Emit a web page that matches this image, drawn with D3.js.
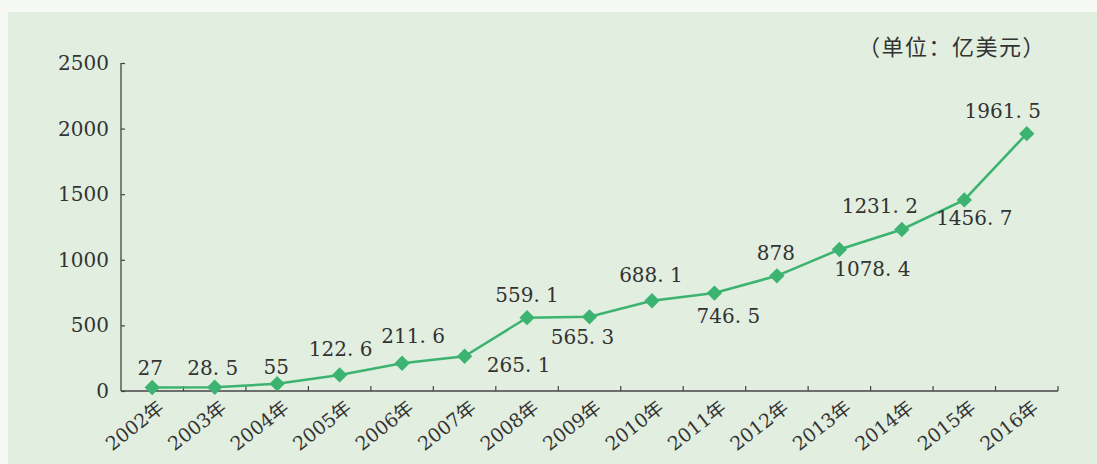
<!DOCTYPE html>
<html>
<head>
<meta charset="utf-8">
<script src="https://cdn.jsdelivr.net/npm/d3@7"></script>
<style>
  html, body { margin: 0; padding: 0; background: #f6f9f3; }
  svg { display: block; }
</style>
</head>
<body>
<div id="chart"></div>
<script>
const years = ["2002年", "2003年", "2004年", "2005年", "2006年", "2007年", "2008年", "2009年",
  "2010年", "2011年", "2012年", "2013年", "2014年", "2015年", "2016年"]
const values = [27, 28.5, 55, 122.6, 211.6, 265.1, 559.1, 565.3, 688.1, 746.5, 878, 1078.4, 1231.2, 1456.7, 1961.5]
const yTicks = [0, 500, 1000, 1500, 2000, 2500]
const unitLabel = "（单位：亿美元）"

// where each value label sits relative to its point (dx, dy of baseline)
const labelOffsets = [[-2, -12], [-2, -12], [-1, -10], [1, -19], [11, -20], [54, 16], [0, -16], [-7, 27],
  [-1, -19], [14, 30], [-1, -16], [33, 26], [-22, -16], [10, 25], [-24, -16]]

const W = 1097, H = 464
const MARGIN = { TOP: 63, BOTTOM: 73, LEFT: 121, RIGHT: 39 }
const GREEN = "#3cb371"
const NUM_FONT = "'DejaVu Serif', serif"

const svg = d3.select("#chart").append("svg")
  .attr("width", W)
  .attr("height", H)

// panel background
svg.append("rect")
  .attr("x", 8).attr("y", 12)
  .attr("width", W - 8).attr("height", H - 12)
  .attr("fill", "#e2eedf")

const g = svg.append("g")
  .attr("transform", `translate(${MARGIN.LEFT}, ${MARGIN.TOP})`)

const width = W - MARGIN.LEFT - MARGIN.RIGHT
const height = H - MARGIN.TOP - MARGIN.BOTTOM

const x = d3.scaleBand()
  .domain(years)
  .range([0, width])

const y = d3.scaleLinear()
  .domain([0, 2500])
  .range([height, 0])

const cx = d => x(d) + x.bandwidth() / 2

// y axis, ticks point inward
const yAxis = g.append("g")
  .call(d3.axisRight(y).tickValues(yTicks).tickSize(4).tickFormat(d3.format("d")))
yAxis.select(".domain").attr("stroke", "#444").attr("stroke-width", 1.3).attr("d", `M0,0V${height}`)
yAxis.selectAll(".tick line").attr("stroke", "#444").attr("stroke-width", 1.2)
yAxis.selectAll(".tick text")
  .attr("x", -12)
  .attr("text-anchor", "end")
  .attr("font-family", NUM_FONT)
  .attr("font-size", 20)
  .attr("fill", "#333")

// x axis, ticks on band edges pointing up
const xAxisGroup = g.append("g")
  .attr("transform", `translate(0, ${height})`)
xAxisGroup.append("line")
  .attr("x1", 0).attr("x2", width)
  .attr("stroke", "#444").attr("stroke-width", 1.3)
xAxisGroup.selectAll(".xtick")
  .data(years)
  .enter().append("line")
    .attr("class", "xtick")
    .attr("x1", d => x(d) + x.bandwidth())
    .attr("x2", d => x(d) + x.bandwidth())
    .attr("y1", 0).attr("y2", -5)
    .attr("stroke", "#444").attr("stroke-width", 1.2)

xAxisGroup.selectAll(".xlabel")
  .data(years)
  .enter().append("text")
    .attr("class", "xlabel")
    .attr("transform", d => `translate(${cx(d) + 13}, 19) rotate(-38)`)
    .attr("text-anchor", "end")
    .attr("font-family", "'DejaVu Serif', 'Noto Sans CJK SC', serif")
    .attr("font-size", 19)
    .attr("fill", "#333")
    .text(d => d)

// line
const line = d3.line()
  .x((d, i) => cx(years[i]))
  .y(d => y(d))

g.append("path")
  .datum(values)
  .attr("d", line)
  .attr("fill", "none")
  .attr("stroke", GREEN)
  .attr("stroke-width", 2.5)

// diamond markers
g.selectAll(".pt")
  .data(values)
  .enter().append("path")
    .attr("class", "pt")
    .attr("d", d3.symbol(d3.symbolDiamond2, 150))
    .attr("transform", (d, i) => `translate(${cx(years[i])}, ${y(d)})`)
    .attr("fill", GREEN)

// value labels
g.selectAll(".vlabel")
  .data(values)
  .enter().append("text")
    .attr("class", "vlabel")
    .attr("x", (d, i) => cx(years[i]) + labelOffsets[i][0])
    .attr("y", (d, i) => y(d) + labelOffsets[i][1])
    .attr("text-anchor", "middle")
    .attr("font-family", NUM_FONT)
    .attr("font-size", 20)
    .attr("fill", "#333")
    .text(d => String(d).replace(".", ". "))

// unit note
svg.append("text")
  .attr("x", 1046)
  .attr("y", 55)
  .attr("text-anchor", "end")
  .attr("font-family", "'Noto Sans CJK SC', sans-serif")
  .attr("font-size", 22)
  .attr("letter-spacing", 1.5)
  .attr("fill", "#333")
  .text(unitLabel)
</script>
</body>
</html>
